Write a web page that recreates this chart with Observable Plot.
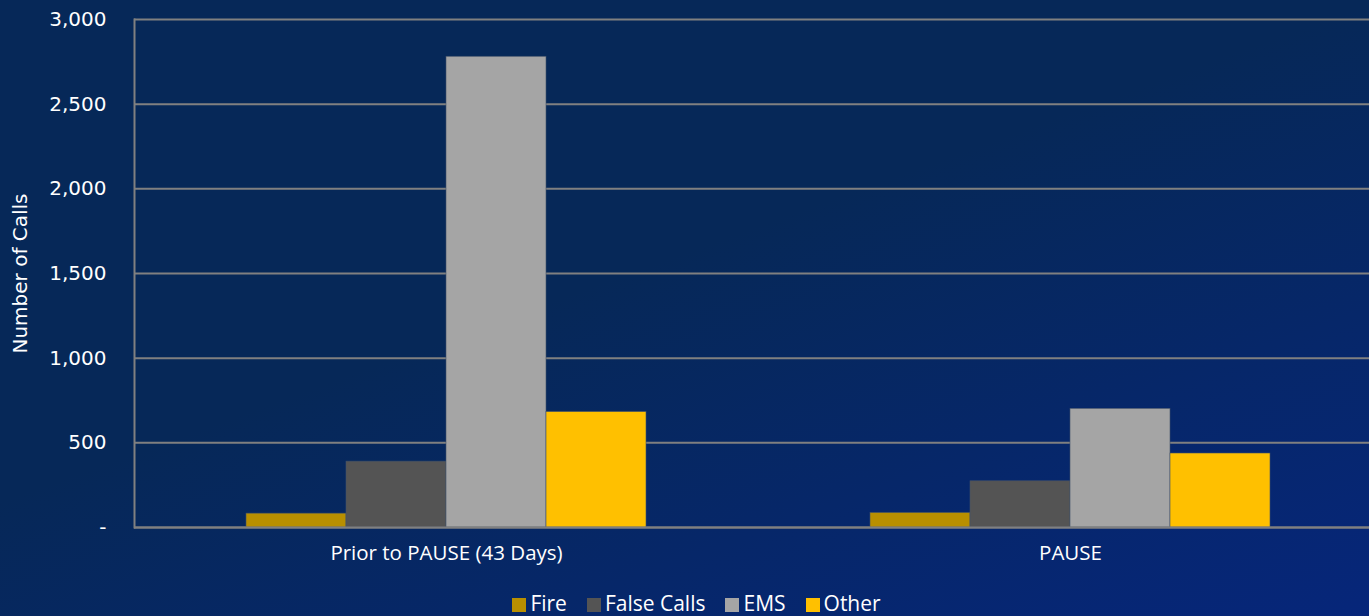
<!DOCTYPE html>
<html>
<head>
<meta charset="utf-8">
<script src="https://cdn.jsdelivr.net/npm/d3@7"></script>
<script src="https://cdn.jsdelivr.net/npm/@observablehq/plot@0.6"></script>
<style>
  html, body { margin: 0; padding: 0; width: 1369px; height: 616px; overflow: hidden; }
  body { background: linear-gradient(160deg, #062858 0%, #062858 45%, #06267a 100%); font-family: "Open Sans", sans-serif; }
  #chart svg { display: block; }
  #legend { position: absolute; top: 591px; left: 12px; width: 1369px; text-align: center; color: #fff; font-family: "Open Sans", sans-serif; font-size: 21px; line-height: 24px; white-space: nowrap; }
  #legend span.item { display: inline-block; margin: 0 10px; }
  #legend span.sw { display: inline-block; width: 14px; height: 14px; margin-right: 4px; vertical-align: -1px; }
</style>
</head>
<body>
<div id="chart"></div>
<div id="legend"></div>
<script>
const categories = ["Prior to PAUSE (43 Days)", "PAUSE"];
const series = ["Fire", "False Calls", "EMS", "Other"];
const colors = ["#b88f00", "#545454", "#a5a5a5", "#ffc000"];
const priorValues = [82, 389, 2780, 682];
const pauseValues = [86, 273, 701, 437];
const yTicks = [0, 500, 1000, 1500, 2000, 2500, 3000];

const data = [];
series.forEach((s, i) => {
  data.push({cat: categories[0], series: s, value: priorValues[i]});
  data.push({cat: categories[1], series: s, value: pauseValues[i]});
});

const plot = Plot.plot({
  width: 1369,
  height: 580,
  marginLeft: 134,
  marginRight: -13,
  marginTop: 19,
  marginBottom: 53,
  style: {background: "transparent", color: "#fff", fontFamily: "Open Sans, sans-serif"},
  fx: {domain: categories, padding: 0, label: null},
  x: {domain: series, paddingInner: 0, paddingOuter: 1.09, axis: null},
  y: {domain: [0, 3000], ticks: yTicks},
  color: {domain: series, range: colors},
  marks: [
    Plot.gridY(yTicks, {stroke: "#808080", strokeOpacity: 1, strokeWidth: 2}),
    Plot.axisY(yTicks, {
      tickSize: 0, tickPadding: 28, fontSize: 20, fill: "#fff", fontFamily: "DejaVu Sans, sans-serif",
      tickFormat: d => d === 0 ? "-" : d3.format(",")(d),
      label: "Number of Calls", labelAnchor: "center", labelArrow: "none", labelOffset: 122
    }),
    Plot.axisFx({anchor: "bottom", tickSize: 0, tickPadding: 18, fontSize: 20.5, fill: "#fff", label: null}),
    Plot.barY(data, {fx: "cat", x: "series", y: "value", fill: "series", stroke: "#40506a", strokeWidth: 0.6}),
    Plot.frame({anchor: "left", facetAnchor: "left", stroke: "#808080", strokeWidth: 2}),
    Plot.ruleY([0], {stroke: "#808080", strokeWidth: 2})
  ]
});
document.getElementById("chart").appendChild(plot);

const legend = document.getElementById("legend");
series.forEach((s, i) => {
  const item = document.createElement("span");
  item.className = "item";
  item.innerHTML = `<span class="sw" style="background:${colors[i]}"></span>${s}`;
  legend.appendChild(item);
});
</script>
</body>
</html>
